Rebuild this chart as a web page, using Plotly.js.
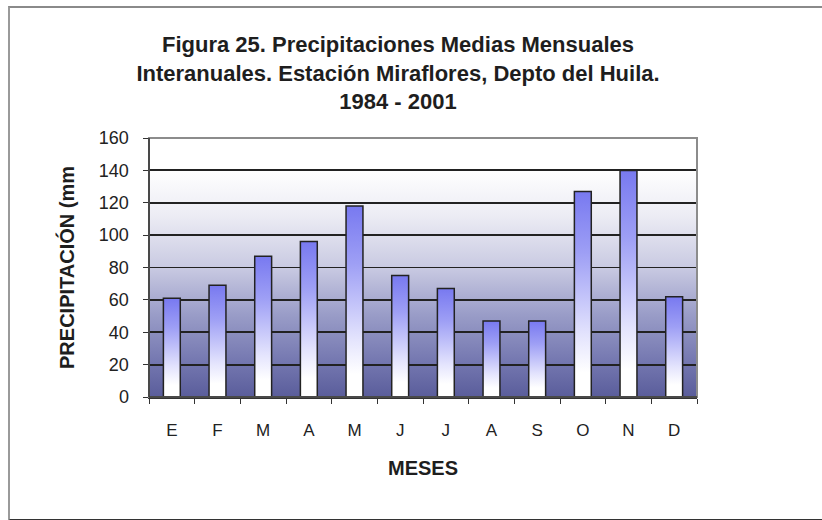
<!DOCTYPE html>
<html>
<head>
<meta charset="utf-8">
<script src="https://cdn.plot.ly/plotly-3.0.1.min.js"></script>
<style>
  html, body { margin: 0; padding: 0; background: #fff; overflow: hidden; }
  #wrap { position: relative; width: 822px; height: 520px; }
  #chart { width: 822px; height: 520px; }
  #frame { position: absolute; left: 8px; top: 6px; width: 830px; height: 511px; z-index: 10;
           border-top: 2px solid #8a8a8a; border-left: 2px solid #9a9a9a;
           border-bottom: 2px solid #333; pointer-events: none; box-sizing: content-box; }
</style>
</head>
<body>
<div id="wrap">
  <div id="chart"></div>
  <div id="frame"></div>
</div>
<script>
// ---- data ----
const months = ["E", "F", "M", "A", "M ", "J", "J ", "A ", "S", "O", "N", "D"];
const monthLabels = ["E", "F", "M", "A", "M", "J", "J", "A", "S", "O", "N", "D"];
const precipitation = [61, 69, 87, 96, 118, 75, 67, 47, 47, 127, 140, 62];
const yTicks = [0, 20, 40, 60, 80, 100, 120, 140, 160];

const titleText = "Figura 25. Precipitaciones Medias Mensuales<br>Interanuales. Estación Miraflores, Depto del Huila.<br>1984 - 2001";

// background gradient image for plot area
const bgSvg = '<svg xmlns="http://www.w3.org/2000/svg" width="100" height="100" preserveAspectRatio="none">' +
  '<defs><linearGradient id="g" x1="0" y1="0" x2="0" y2="1">' +
  '<stop offset="0" stop-color="#ffffff"/>' +
  '<stop offset="0.12" stop-color="#ffffff"/>' +
  '<stop offset="0.30" stop-color="#ececf4"/>' +
  '<stop offset="0.50" stop-color="#c9cae2"/>' +
  '<stop offset="0.68" stop-color="#9a9dc8"/>' +
  '<stop offset="0.85" stop-color="#777ab2"/>' +
  '<stop offset="1" stop-color="#5a5d9b"/>' +
  '</linearGradient></defs><rect width="100" height="100" fill="url(#g)"/></svg>';
const bgUrl = "data:image/svg+xml;charset=utf-8," + encodeURIComponent(bgSvg);

const trace = {
  type: "bar",
  x: months,
  y: precipitation,
  marker: { color: "#9a9af4", line: { color: "#222", width: 1.5 } },
  hoverinfo: "none"
};

const fam = "Liberation Sans, Arial, sans-serif";

const layout = {
  width: 822, height: 520,
  margin: { l: 149, r: 125, t: 138, b: 123 },
  paper_bgcolor: "#ffffff",
  plot_bgcolor: "#ffffff",
  showlegend: false,
  bargap: 0.63,
  title: {
    text: titleText,
    font: { family: fam, size: 22, color: "#1e1e1e", weight: "bold" },
    x: 398 / 822, xref: "container", xanchor: "center",
    y: 1 - 52 / 520, yref: "container", yanchor: "top"
  },
  xaxis: {
    type: "category",
    tickvals: months, ticktext: monthLabels,
    showline: true, linecolor: "#333", linewidth: 1.5,
    ticks: "outside", ticklen: 5, tickcolor: "#333", tickwidth: 1,
    tickson: "boundaries",
    showgrid: false,
    tickfont: { family: fam, size: 17, color: "#222" },
    ticklabelstandoff: 17,
    title: { text: "MESES", standoff: 22,
             font: { family: fam, size: 20, color: "#1e1e1e", weight: "bold" } }
  },
  yaxis: {
    range: [0, 160],
    tickvals: yTicks,
    showline: true, linecolor: "#333", linewidth: 1.5,
    ticks: "outside", ticklen: 5, tickcolor: "#333", tickwidth: 1,
    showgrid: true, gridcolor: "#222", gridwidth: 1.8,
    zeroline: false,
    tickfont: { family: fam, size: 18, color: "#222" },
    ticklabelstandoff: 10,
    title: { text: "PRECIPITACIÓN (mm", standoff: 19,
             font: { family: fam, size: 20, color: "#1e1e1e", weight: "bold" } }
  },
  images: [{
    source: bgUrl, xref: "paper", yref: "paper", x: 0, y: 1, sizex: 1, sizey: 1,
    sizing: "stretch", xanchor: "left", yanchor: "top", layer: "below"
  }],
  shapes: [{
    type: "rect", xref: "paper", yref: "paper", x0: 0, x1: 1, y0: 0, y1: 1,
    line: { color: "#8c8c8c", width: 2 }, fillcolor: "rgba(0,0,0,0)", layer: "above"
  }, {
    type: "line", xref: "paper", yref: "paper", x0: 0, x1: 0, y0: 0, y1: 1,
    line: { color: "#333", width: 1.5 }, layer: "above"
  }, {
    type: "line", xref: "paper", yref: "paper", x0: 0, x1: 1, y0: 0, y1: 0,
    line: { color: "#333", width: 1.5 }, layer: "above"
  }]
};

Plotly.newPlot("chart", [trace], layout, { staticPlot: true, displayModeBar: false }).then(function (gd) {
  const svg = gd.querySelector("svg.main-svg");
  const ns = "http://www.w3.org/2000/svg";
  let defs = svg.querySelector("defs");
  if (!defs) { defs = document.createElementNS(ns, "defs"); svg.insertBefore(defs, svg.firstChild); }
  const grad = document.createElementNS(ns, "linearGradient");
  grad.setAttribute("id", "barGrad");
  grad.setAttribute("x1", "0"); grad.setAttribute("y1", "0");
  grad.setAttribute("x2", "0"); grad.setAttribute("y2", "1");
  [["0", "#7879f0"], ["0.3", "#9e9ff5"], ["0.7", "#e4e4fd"], ["0.88", "#ffffff"], ["1", "#ffffff"]].forEach(function (s) {
    const st = document.createElementNS(ns, "stop");
    st.setAttribute("offset", s[0]); st.setAttribute("stop-color", s[1]);
    grad.appendChild(st);
  });
  defs.appendChild(grad);
  gd.querySelectorAll(".trace.bars .point path").forEach(function (p) {
    p.style.fill = "url(#barGrad)";
    p.style.fillOpacity = "1";
  });
});
</script>
</body>
</html>
